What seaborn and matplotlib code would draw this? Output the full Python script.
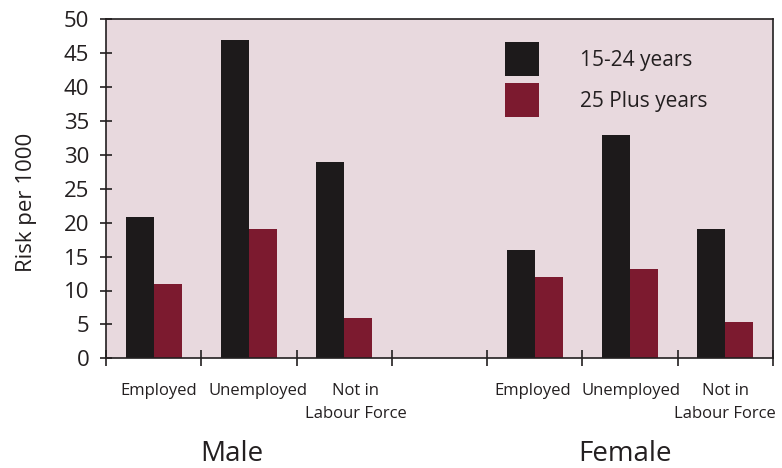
import matplotlib
matplotlib.use("Agg")
import matplotlib.pyplot as plt
from matplotlib.ticker import FixedLocator, NullFormatter
import matplotlib.transforms as mtransforms
import pandas as pd
import seaborn as sns

# Risk per 1000 by labour-force status, sex and age group
status = ["Employed", "Unemployed", "Not in\nLabour Force"]
sexes = ["Male", "Female"]
age_groups = ["15-24 years", "25 Plus years"]
male_15_24 = [20.8, 47, 29]
male_25_plus = [11, 19, 6]
female_15_24 = [16, 33, 19]
female_25_plus = [12, 13.2, 5.3]
y_ticks = [0, 5, 10, 15, 20, 25, 30, 35, 40, 45, 50]

values = {
    ("Male", "15-24 years"): male_15_24,
    ("Male", "25 Plus years"): male_25_plus,
    ("Female", "15-24 years"): female_15_24,
    ("Female", "25 Plus years"): female_25_plus,
}

rows = []
for sex in sexes:
    for age in age_groups:
        for st, v in zip(status, values[(sex, age)]):
            rows.append({"slot": f"{sex}|{st}", "age": age, "risk": v})
df = pd.DataFrame(rows)

# seven category slots: three per sex with an empty slot between them
slot_order = [f"Male|{s}" for s in status] + ["gap"] + [f"Female|{s}" for s in status]

sns.set_style("ticks")
plt.rcParams["font.family"] = ["Open Sans", "DejaVu Sans"]
text_color = "#231f20"
bar_colors = ["#1d1a1b", "#7c1a2f"]

W, H = 782, 468
fig = plt.figure(figsize=(W / 100, H / 100), dpi=100, facecolor="white")
ax = fig.add_axes([106 / W, 1 - 358.3 / H, (773 - 106) / W, (358.3 - 19.3) / H])
ax.set_facecolor("#e8d9de")

sns.barplot(data=df, x="slot", y="risk", hue="age", order=slot_order,
            hue_order=age_groups, palette=bar_colors, saturation=1,
            width=0.59, errorbar=None, linewidth=0, ax=ax)

ax.set_xlim(-0.5, len(slot_order) - 0.5)
ax.set_ylim(0, 50)
ax.set_xlabel("")
ax.set_ylabel("Risk per 1000", fontsize=16, color=text_color)
ax.yaxis.set_label_coords(-0.103, 0.461)

for side in ["left", "right", "top", "bottom"]:
    ax.spines[side].set_visible(True)
    ax.spines[side].set_color(text_color)
    ax.spines[side].set_linewidth(1.2)

ax.yaxis.set_major_locator(FixedLocator(y_ticks))
ax.tick_params(axis="y", direction="inout", length=8, width=1.2,
               labelsize=16, labelcolor=text_color, color=text_color, pad=8)

# slot boundaries carry the x tick marks; labels are drawn as text
ax.xaxis.set_major_locator(FixedLocator([]))
ax.xaxis.set_minor_locator(FixedLocator([i - 0.5 for i in range(len(slot_order) + 1)]))
ax.xaxis.set_minor_formatter(NullFormatter())
ax.tick_params(axis="x", which="minor", direction="inout", length=12, width=1.2,
               color=text_color)

trans = mtransforms.blended_transform_factory(ax.transData, ax.transAxes)
label_shift = {"Male": [0.05, 0.09, 0.12], "Female": [-0.02, 0.01, 0.0]}
for sex in sexes:
    for i, st in enumerate(status):
        xpos = slot_order.index(f"{sex}|{st}") + label_shift[sex][i]
        ax.text(xpos, -0.074, st, transform=trans, ha="center", va="top",
                multialignment="center", fontsize=12, color=text_color,
                linespacing=1.55)

group_shift = {"Male": -0.18, "Female": -0.05}
for sex in sexes:
    xpos = slot_order.index(f"{sex}|Unemployed") + group_shift[sex]
    ax.text(xpos, -0.303, sex, transform=trans, ha="center", va="baseline",
            fontsize=20, color=text_color)

handles, labels = ax.get_legend_handles_labels()
ax.legend(handles, labels, loc="upper left",
          bbox_to_anchor=(505 / W, 1 - 42 / H), bbox_transform=fig.transFigure,
          frameon=False, borderpad=0, borderaxespad=0,
          handlelength=1.63, handleheight=2.13, handletextpad=1.97,
          labelspacing=0.36, fontsize=15, labelcolor=text_color)

fig.savefig("out.png", dpi=100, facecolor="white")
